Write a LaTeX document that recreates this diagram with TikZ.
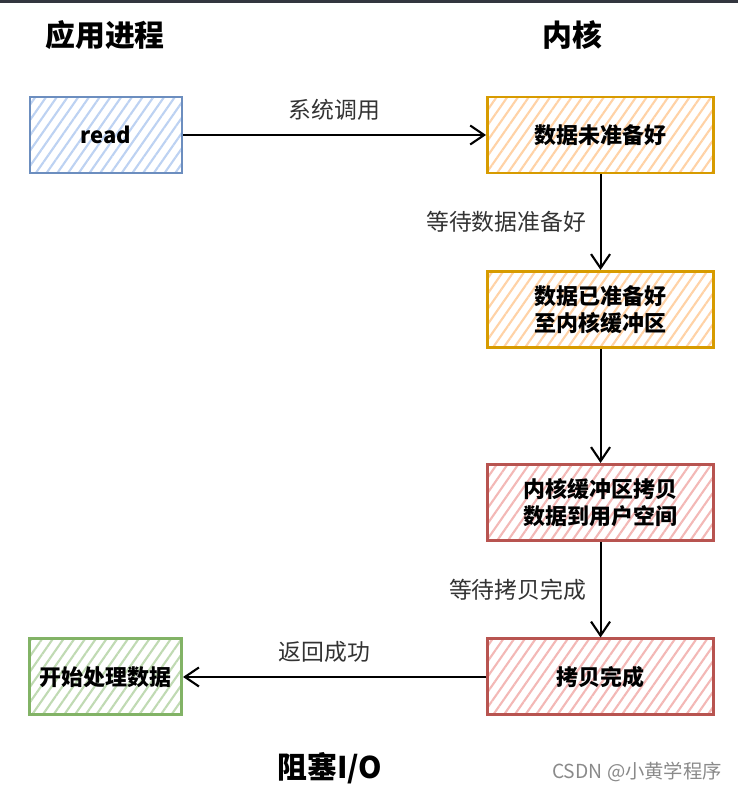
\documentclass[tikz,border=0pt]{standalone}
\usepackage{fontspec}
\setmainfont{Noto Sans CJK SC}
\usetikzlibrary{arrows.meta,positioning,patterns.meta}
\definecolor{appStroke}{HTML}{6C8EBF}
\definecolor{appHatch}{HTML}{BDD2F2}
\definecolor{readyStroke}{HTML}{D79B00}
\definecolor{readyHatch}{HTML}{FFD2A6}
\definecolor{copyStroke}{HTML}{B85450}
\definecolor{copyHatch}{HTML}{F3B8B6}
\definecolor{doneStroke}{HTML}{82B366}
\definecolor{doneHatch}{HTML}{C0DAB3}
\definecolor{labelGray}{HTML}{333333}
\definecolor{markGray}{HTML}{8A8A8A}
\definecolor{topBar}{HTML}{33363F}
\tikzset{%
  >={Straight Barb[length=2.8mm,width=3.8mm]},
  % Specifications for style of nodes:
          base/.style = {rectangle, draw, line width=1.7pt,
                         minimum height=1.52cm, text centered, align=center,
                         font=\fontsize{12.5}{15.5}\selectfont\bfseries},
       appNode/.style = {base, minimum width=3.04cm},
    kernelNode/.style = {base, minimum width=4.52cm},
       appCall/.style = {appNode, draw=appStroke,
                         pattern={Lines[angle=55,distance=5pt,line width=1.2pt]},
                         pattern color=appHatch},
      appStart/.style = {appNode, draw=doneStroke,
                         pattern={Lines[angle=55,distance=5pt,line width=1.2pt]},
                         pattern color=doneHatch},
    kernelWait/.style = {kernelNode, draw=readyStroke,
                         pattern={Lines[angle=55,distance=5pt,line width=1.2pt]},
                         pattern color=readyHatch},
    kernelCopy/.style = {kernelNode, draw=copyStroke,
                         pattern={Lines[angle=55,distance=5pt,line width=1.2pt]},
                         pattern color=copyHatch},
         title/.style = {font=\fontsize{17}{20}\selectfont\bfseries},
      arrowTxt/.style = {font=\fontsize{13}{15}\selectfont, text=labelGray},
          flow/.style = {->, line width=1.2pt},
}

\begin{document}
\begin{tikzpicture}[node distance=1.91cm]

\useasboundingbox (0,0) rectangle (14.76,-15.82);
\fill[topBar] (0,0) rectangle (14.76,-0.06);

\node (App)    [title] at (2.10,-0.70)   {应用进程};
\node (Kernel) [title] at (11.44,-0.70)  {内核};

\node (Read)   [appCall] at (2.12,-2.70)        {read};
\node (NR)     [kernelWait, right=6.06cm of Read] {数据未准备好};
\node (RD)     [kernelWait, below=of NR]          {数据已准备好\\至内核缓冲区};
\node (CP)     [kernelCopy, below=2.28cm of RD]   {内核缓冲区拷贝\\数据到用户空间};
\node (CD)     [kernelCopy, below=of CP]          {拷贝完成};
\node (PD)     [appStart, left=6.06cm of CD]      {开始处理数据};

\node (BIO)  [title] at (6.60,-15.36) {阻塞I/O};
\node (Mark) [font=\fontsize{11}{13}\selectfont, text=markGray] at (12.74,-15.44) {CSDN @小黄学程序};

\draw[flow] (Read) -- node[arrowTxt, above=0.16cm] {系统调用} (NR);
\draw[flow] (NR)   -- node[arrowTxt, left=0.15cm] {等待数据准备好} (RD);
\draw[flow] (RD)   -- (CP);
\draw[flow] (CP)   -- node[arrowTxt, left=0.15cm] {等待拷贝完成} (CD);
\draw[flow] (CD)   -- node[arrowTxt, above=0.16cm, xshift=-0.2cm] {返回成功} (PD);
\end{tikzpicture}
\end{document}
